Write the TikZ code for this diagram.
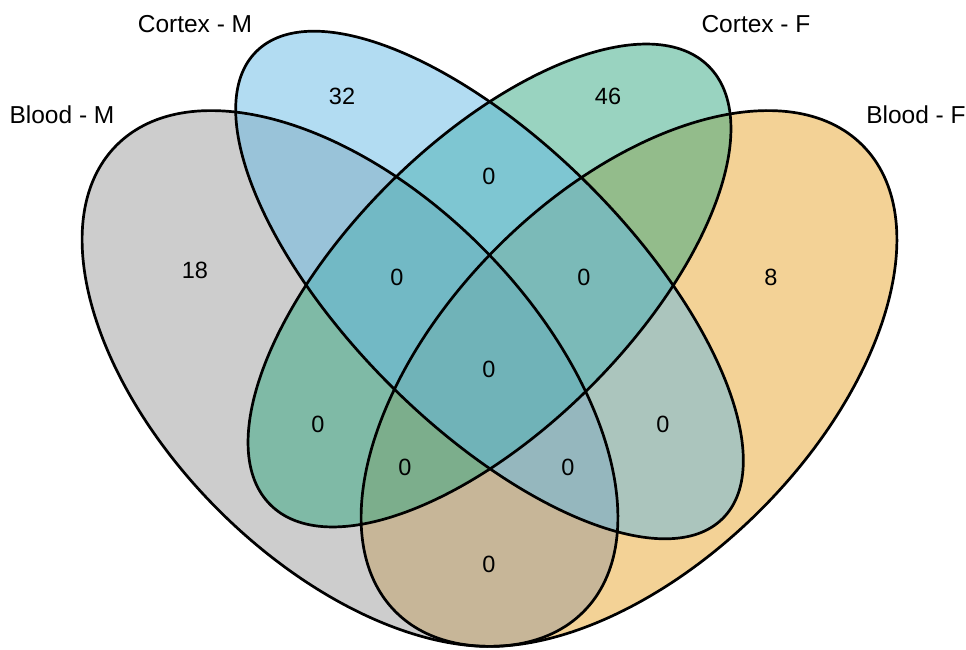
\documentclass[tikz,border=0pt]{standalone}
\usepackage{fontspec}
\setmainfont{Liberation Sans}
\definecolor{bmcol}{RGB}{155,155,155}
\definecolor{cmcol}{RGB}{101,185,229}
\definecolor{cfcol}{RGB}{51,167,129}
\definecolor{bfcol}{RGB}{231,165,45}
\tikzset{
  setfill/.style={fill=#1, fill opacity=0.5, draw=none},
  setline/.style={draw=black, line width=2.7pt, fill=none},
  setlabel/.style={inner sep=0pt, font=\fontsize{24.5}{28}\selectfont},
  count/.style={inner sep=0pt, font=\fontsize{23.5}{28}\selectfont}
}
\begin{document}
\begin{tikzpicture}[x=1pt,y=1pt]
\useasboundingbox (0,0) rectangle (966,649);
% centres
\coordinate (cBM) at (350,270.5);
\coordinate (cBF) at (629,270.5);
\coordinate (cCM) at (489.5,364);
\coordinate (cCF) at (489.5,363.5);
% fills
\path[setfill=bfcol, rotate around={45:(cBF)}] (cBF) ellipse [x radius=330pt, y radius=186pt];
\path[setfill=bmcol, rotate around={-45:(cBM)}] (cBM) ellipse [x radius=330pt, y radius=186pt];
\path[setfill=cfcol, rotate around={45:(cCF)}] (cCF) ellipse [x radius=310pt, y radius=143pt];
\path[setfill=cmcol, rotate around={-45:(cCM)}] (cCM) ellipse [x radius=330pt, y radius=141pt];
% outlines
\path[setline, rotate around={45:(cBF)}] (cBF) ellipse [x radius=330pt, y radius=186pt];
\path[setline, rotate around={-45:(cBM)}] (cBM) ellipse [x radius=330pt, y radius=186pt];
\path[setline, rotate around={45:(cCF)}] (cCF) ellipse [x radius=310pt, y radius=143pt];
\path[setline, rotate around={-45:(cCM)}] (cCM) ellipse [x radius=330pt, y radius=141pt];
% set labels
\node[setlabel] (lBM) at (62,534) {Blood - M};
\node[setlabel] (lCM) at (195,625) {Cortex - M};
\node[setlabel] (lCF) at (756,625) {Cortex - F};
\node[setlabel] (lBF) at (916,534) {Blood - F};
% counts
\node[count] (n32) at (342,553) {32};
\node[count] (n46) at (608,553) {46};
\node[count] (n18) at (195,379) {18};
\node[count] (n8) at (771,372) {8};
\node[count] (nCMCF) at (489,473) {0};
\node[count] (nBMCMCF) at (397,372) {0};
\node[count] (nCMCFBF) at (584,372) {0};
\node[count] (nAll) at (489,280) {0};
\node[count] (nBMCF) at (318,225) {0};
\node[count] (nCMBF) at (663,225) {0};
\node[count] (nBMCFBF) at (405,182) {0};
\node[count] (nBMCMBF) at (568,182) {0};
\node[count] (nBMBF) at (489,85) {0};
\end{tikzpicture}
\end{document}
